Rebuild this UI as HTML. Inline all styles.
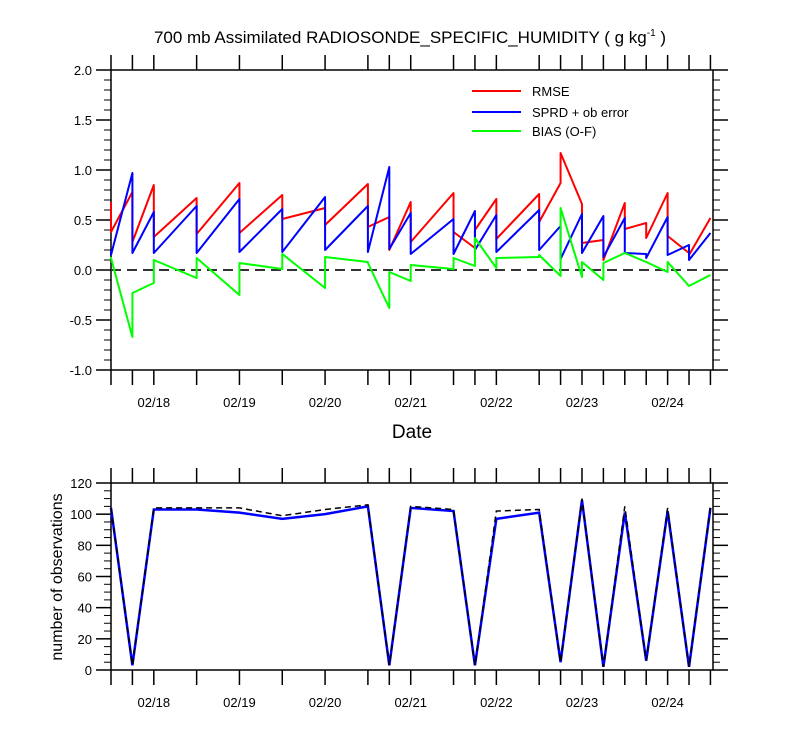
<!DOCTYPE html>
<html><head><meta charset="utf-8"><style>
html,body{margin:0;padding:0;background:#fff;}
svg{display:block;font-family:"Liberation Sans",sans-serif;}
</style></head><body>
<svg id="chart" width="800" height="750" viewBox="0 0 800 750">
<text x="410" y="43" font-size="17" text-anchor="middle">700 mb Assimilated RADIOSONDE_SPECIFIC_HUMIDITY ( g kg<tspan dy="-7" font-size="10">-1</tspan><tspan dy="7"> )</tspan></text>
<text x="412" y="438" font-size="19" text-anchor="middle">Date</text>
<text transform="translate(62,577) rotate(-90)" font-size="16" text-anchor="middle">number of observations</text>
<g id="topPanel"></g>
<g id="botPanel"></g>
<g>
<line x1="472" y1="91" x2="521" y2="91" stroke="#f00" stroke-width="2"/>
<text x="532" y="96" font-size="13">RMSE</text>
<line x1="472" y1="112" x2="521" y2="112" stroke="#00f" stroke-width="2"/>
<text x="532" y="117" font-size="13">SPRD + ob error</text>
<line x1="472" y1="131" x2="521" y2="131" stroke="#0f0" stroke-width="2"/>
<text x="532" y="136" font-size="13">BIAS (O-F)</text>
</g>
</svg>
<script>
// times in days since 02/17 12Z
const times = [0,0.25,0.5,1,1.5,2,2.5,3,3.25,3.5,4,4.25,4.5,5,5.25,5.5,5.75,6,6.25,6.5,6.75,7];
const rmseGuess = [0.68,0.78,0.85,0.72,0.87,0.75,0.62,0.86,0.53,0.68,0.77,0.22,0.71,0.76,0.87,0.66,0.30,0.67,0.47,0.77,0.17,0.52];
const rmseAnal  = [0.38,0.28,0.33,0.36,0.37,0.51,0.45,0.43,0.20,0.28,0.38,0.40,0.31,0.48,1.17,0.27,0.10,0.41,0.32,0.34,0.15,0.52];
const sprdGuess = [0.20,0.97,0.58,0.64,0.71,0.61,0.73,0.64,1.03,0.57,0.51,0.59,0.55,0.60,0.44,0.56,0.54,0.52,0.16,0.53,0.25,0.37];
const sprdAnal  = [0.15,0.17,0.17,0.17,0.18,0.18,0.20,0.18,0.21,0.16,0.16,0.20,0.18,0.20,0.11,0.17,0.13,0.17,0.12,0.15,0.10,0.37];
const biasGuess = [0.13,-0.67,-0.13,-0.08,-0.25,0.01,-0.18,0.08,-0.38,-0.11,0.01,0.04,0.02,0.13,-0.06,-0.07,-0.10,0.17,0.08,-0.02,-0.16,-0.05];
const biasAnal  = [0.12,-0.23,0.10,0.12,0.07,0.16,0.13,0.07,-0.02,0.05,0.12,0.32,0.12,0.15,0.62,0.08,0.07,0.17,0.08,0.08,-0.16,-0.05];
const obsUsed     = [104,3,103,103,101,97,100,105,3,104,102,3,97,101,5,109,2,101,6,102,2,104];
const obsPossible = [104,3,104,104,104,99,103,106,3,105,103,3,102,103,5,110,2,105,6,104,2,105];
const dayLabels = ["02/18","02/19","02/20","02/21","02/22","02/23","02/24"];
const dayPos = [0.5,1.5,2.5,3.5,4.5,5.5,6.5];
const topTicks = ["-1.0","-0.5","0.0","0.5","1.0","1.5","2.0"];
const botTicks = ["0","20","40","60","80","100","120"];

const NS="http://www.w3.org/2000/svg";
const X0=111,X1=713,TMAX=7.03;
const xS=t=>X0+(t/TMAX)*(X1-X0);
const yT=v=>270-v*100;
const yB=v=>670-v*(670-483)/120;
function mk(tag,attrs,parent){const e=document.createElementNS(NS,tag);for(const k in attrs)e.setAttribute(k,attrs[k]);parent.appendChild(e);return e;}
const topG=document.getElementById('topPanel'),botG=document.getElementById('botPanel');

function axes(g,yTop,yBot,ticks,yfun,vals,minorStep,lo,hi,nm){
  for(let v=lo;v<=hi+1e-9;v+=minorStep){
    const yy=yfun(v);
    const major=vals.some(q=>Math.abs(q-v)<1e-6);
    const L=major?15:7;
    let l=mk('line',{x1:X0-L,y1:yy,x2:X0,y2:yy,stroke:'#000','stroke-width':major?1.5:1},g);
    
    
    l=mk('line',{x1:X1,y1:yy,x2:X1+L,y2:yy,stroke:'#000','stroke-width':major?1.5:1},g);
    
    
  }
  vals.forEach((v,i)=>{
    const t=mk('text',{x:X0-19,y:yfun(v)+5,'font-size':13,'text-anchor':'end'},g);
    t.textContent=ticks[i];
    
    
  });
  times.forEach(tt=>{
    let l=mk('line',{x1:xS(tt),y1:yTop-15,x2:xS(tt),y2:yTop,stroke:'#000','stroke-width':1.5},g);
    
    
    l=mk('line',{x1:xS(tt),y1:yBot,x2:xS(tt),y2:yBot+15,stroke:'#000','stroke-width':1.5},g);
    
    
  });
  dayPos.forEach((d,i)=>{
    const t=mk('text',{x:xS(d),y:yBot+37,'font-size':13,'text-anchor':'middle'},g);
    t.textContent=dayLabels[i];
    
    
  });
  const r=mk('rect',{x:X0,y:yTop,width:X1-X0,height:yBot-yTop,fill:'none',stroke:'#000','stroke-width':1.5},g);
  
  
}
function saw(g,gu,an,col,nm){
  let d='';
  times.forEach((t,i)=>{d+=(i?'L':'M')+xS(t)+','+yT(gu[i])+'L'+xS(t)+','+yT(an[i]);});
  const p=mk('path',{d:d,fill:'none',stroke:col,'stroke-width':2,'stroke-linejoin':'round'},g);
  
  
}
axes(topG,70,370,topTicks,yT,[-1,-0.5,0,0.5,1,1.5,2],0.1,-1,2,'top');
const zl=mk('line',{x1:X0,y1:yT(0),x2:X1,y2:yT(0),stroke:'#333','stroke-width':2,'stroke-dasharray':'10,6'},topG);


saw(topG,rmseGuess,rmseAnal,'#f00','rmse-line');
saw(topG,sprdGuess,sprdAnal,'#00f','sprd-line');
saw(topG,biasGuess,biasAnal,'#0f0','bias-line');

axes(botG,483,670,botTicks,yB,[0,20,40,60,80,100,120],5,0,120,'bottom');
function line(g,vals,col,w,dash,nm){
  const d=times.map((t,i)=>(i?'L':'M')+xS(t)+','+yB(vals[i])).join('');
  const p=mk('path',{d:d,fill:'none',stroke:col,'stroke-width':w,'stroke-dasharray':dash},g);
  
  
}
line(botG,obsUsed,'#00f',2.5,'none','obs-used-line');
line(botG,obsPossible,'#000',1.5,'6,4','obs-possible-line');
</script>
</body></html>
